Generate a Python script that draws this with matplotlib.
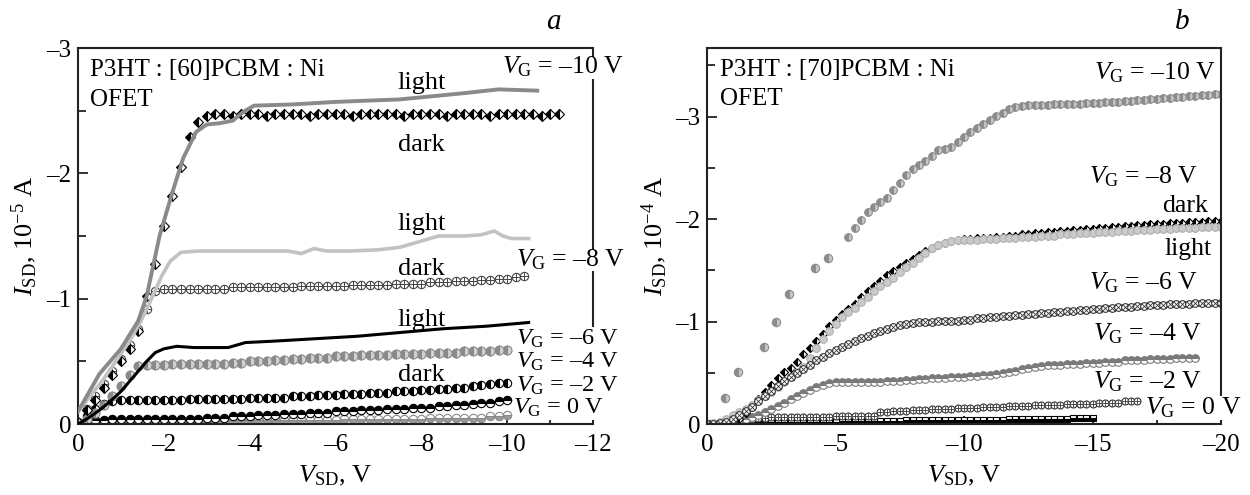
import numpy as np
import matplotlib
matplotlib.use('Agg')
import matplotlib.pyplot as plt
from matplotlib.ticker import MultipleLocator
from matplotlib.patches import Rectangle

plt.rcParams['font.family'] = ['Liberation Serif', 'DejaVu Serif']
plt.rcParams['mathtext.fontset'] = 'custom'
plt.rcParams['mathtext.rm'] = 'Liberation Serif'
plt.rcParams['mathtext.it'] = 'Liberation Serif:italic'

# ---------------- panel a: P3HT:[60]PCBM:Ni, I_SD in 1e-5 A ----------------
step_a = 0.2   # V_SD sweep step for the marker series

a10_light_x = [0, -0.5, -1.0, -1.4, -1.6, -1.9, -2.2, -2.45, -2.75, -3.0, -3.3,
               -3.6, -3.85, -4.1, -5.0, -6.0, -7.5, -9.0, -9.8, -10.7]
a10_light_y = [-0.1, -0.4, -0.6, -0.82, -1.02, -1.5, -1.85, -2.12, -2.33, -2.39, -2.40,
               -2.42, -2.49, -2.54, -2.55, -2.57, -2.59, -2.64, -2.67, -2.66]
a10_dark_y = [-0.02, -0.11, -0.19, -0.29, -0.39, -0.50, -0.60, -0.74, -1.02, -1.28,
              -1.58, -1.82, -2.05, -2.29, -2.41, -2.46,
              -2.47, -2.47, -2.46, -2.47, -2.47, -2.47, -2.46, -2.47, -2.47, -2.47,
              -2.47, -2.46, -2.47, -2.47, -2.47, -2.47, -2.46, -2.47, -2.47, -2.47,
              -2.47, -2.47, -2.46, -2.47, -2.47, -2.47, -2.47, -2.46, -2.47, -2.47,
              -2.47, -2.47, -2.46, -2.47, -2.47, -2.47, -2.47, -2.47, -2.46, -2.47,
              -2.47]

a8_light_x = [0, -0.3, -0.6, -0.9, -1.2, -1.45, -1.7, -1.95, -2.15, -2.4, -2.8, -3.5,
              -4.2, -4.9, -5.2, -5.5, -5.8, -6.3, -7.0, -7.5, -8.0, -8.4, -9.0, -9.4,
              -9.7, -9.9, -10.1, -10.5]
a8_light_y = [-0.1, -0.23, -0.36, -0.51, -0.66, -0.81, -0.99, -1.18, -1.30, -1.37, -1.38, -1.38,
              -1.38, -1.38, -1.36, -1.40, -1.38, -1.38, -1.39, -1.41, -1.46, -1.50, -1.50, -1.51,
              -1.54, -1.50, -1.48, -1.48]
a8_dark_y = [-0.02, -0.12, -0.22, -0.32, -0.42, -0.52, -0.63, -0.76, -0.92, -1.06,
             -1.08, -1.08, -1.08, -1.08, -1.08, -1.08, -1.08, -1.08, -1.09, -1.09,
             -1.09, -1.09, -1.09, -1.09, -1.09, -1.09, -1.10, -1.10, -1.10, -1.10,
             -1.10, -1.10, -1.11, -1.11, -1.11, -1.11, -1.11, -1.12, -1.12, -1.12,
             -1.12, -1.13, -1.13, -1.13, -1.14, -1.14, -1.14, -1.15, -1.15, -1.16,
             -1.16, -1.17, -1.18]

a6_light_x = [0, -0.25, -0.5, -0.75, -1.0, -1.3, -1.6, -1.8, -2.0, -2.3, -2.7, -3.2, -3.5,
              -3.7, -3.9, -4.5, -5.5, -6.5, -7.5, -8.5, -9.5, -10.5]
a6_light_y = [0, -0.05, -0.11, -0.18, -0.26, -0.38, -0.50, -0.57, -0.60, -0.62, -0.61, -0.61, -0.61,
              -0.63, -0.65, -0.66, -0.68, -0.70, -0.73, -0.76, -0.78, -0.81]
a6_dark_y = [-0.01, -0.04, -0.09, -0.15, -0.22, -0.30, -0.39, -0.46, -0.47, -0.47,
             -0.47, -0.48, -0.48, -0.48, -0.48, -0.48, -0.48, -0.48, -0.49, -0.49,
             -0.50, -0.50, -0.50, -0.51, -0.51, -0.52, -0.52, -0.53, -0.53, -0.53,
             -0.54, -0.54, -0.54, -0.55, -0.55, -0.55, -0.55, -0.56, -0.56, -0.56,
             -0.56, -0.57, -0.57, -0.57, -0.57, -0.58, -0.58, -0.58, -0.58, -0.59,
             -0.59]
a4_dark_y = [-0.01, -0.06, -0.12, -0.16, -0.18, -0.19, -0.19, -0.19, -0.19, -0.19,
             -0.19, -0.19, -0.19, -0.20, -0.20, -0.20, -0.20, -0.20, -0.20, -0.20,
             -0.21, -0.21, -0.21, -0.21, -0.21, -0.22, -0.22, -0.22, -0.23, -0.23,
             -0.23, -0.24, -0.24, -0.24, -0.25, -0.25, -0.25, -0.26, -0.26, -0.26,
             -0.27, -0.27, -0.28, -0.28, -0.29, -0.29, -0.30, -0.31, -0.32, -0.33,
             -0.33]
a2_dark_y = [-0.01, -0.02, -0.03, -0.03, -0.04, -0.04, -0.04, -0.04, -0.04, -0.04,
             -0.04, -0.04, -0.04, -0.04, -0.04, -0.05, -0.05, -0.05, -0.06, -0.06,
             -0.06, -0.07, -0.07, -0.07, -0.08, -0.08, -0.08, -0.09, -0.09, -0.09,
             -0.10, -0.10, -0.10, -0.11, -0.11, -0.11, -0.12, -0.12, -0.12, -0.13,
             -0.13, -0.13, -0.14, -0.14, -0.15, -0.15, -0.16, -0.17, -0.17, -0.18,
             -0.19]
a0_dark_y = [-0.01, -0.02, -0.02, -0.02, -0.02, -0.02, -0.02, -0.02, -0.02, -0.02,
             -0.02, -0.02, -0.02, -0.02, -0.02, -0.02, -0.03, -0.03, -0.03, -0.03,
             -0.03, -0.03, -0.03, -0.03, -0.03, -0.03, -0.03, -0.03, -0.03, -0.03,
             -0.03, -0.04, -0.04, -0.04, -0.04, -0.04, -0.04, -0.04, -0.04, -0.04,
             -0.04, -0.05, -0.05, -0.05, -0.05, -0.05, -0.05, -0.05, -0.06, -0.06,
             -0.07]

# ---------------- panel b: P3HT:[70]PCBM:Ni, I_SD in 1e-4 A ----------------
step_b = 0.25

b10_sparse_x = [-0.7, -1.2, -2.2, -2.7, -3.2, -4.2, -4.7]
b10_sparse_y = [-0.25, -0.51, -0.75, -1.00, -1.27, -1.52, -1.62]
b10_start = -5.5
b10_y = [-1.83, -1.91, -1.99, -2.07, -2.12, -2.17, -2.21, -2.28, -2.35, -2.43,
         -2.49, -2.53, -2.57, -2.62, -2.67, -2.68, -2.70, -2.75, -2.80, -2.85,
         -2.89, -2.93, -2.97, -3.01, -3.04, -3.07, -3.09, -3.10, -3.11, -3.11,
         -3.11, -3.11, -3.12, -3.12, -3.12, -3.12, -3.12, -3.13, -3.13, -3.13,
         -3.14, -3.14, -3.14, -3.15, -3.15, -3.16, -3.16, -3.17, -3.17, -3.18,
         -3.18, -3.19, -3.19, -3.20, -3.20, -3.21, -3.21, -3.22, -3.22]
b8_dark_y = [0.00, 0.00, -0.01, -0.01, -0.02,
             -0.05, -0.11, -0.17, -0.24, -0.31, -0.38, -0.45, -0.51, -0.55, -0.61,
             -0.68, -0.74, -0.81, -0.88, -0.96, -1.02, -1.07, -1.12, -1.17, -1.24,
             -1.30, -1.35, -1.40, -1.45, -1.49, -1.53, -1.57, -1.61, -1.65, -1.69,
             -1.72, -1.75, -1.77, -1.79, -1.80, -1.81,
             -1.81, -1.82, -1.82, -1.82, -1.83, -1.83, -1.84, -1.84,
             -1.85, -1.85, -1.86, -1.86, -1.87, -1.87, -1.88, -1.88,
             -1.89, -1.89, -1.90, -1.90, -1.91, -1.91, -1.92, -1.92,
             -1.93, -1.93, -1.94, -1.94, -1.95, -1.95, -1.95, -1.96,
             -1.96, -1.96, -1.97, -1.97, -1.97, -1.98, -1.98, -1.98]
b8_light_y = [0.00, -0.01, -0.02, -0.05, -0.09,
              -0.12, -0.15, -0.19, -0.23, -0.27, -0.31, -0.36, -0.41, -0.46, -0.51,
              -0.56, -0.64, -0.74, -0.83, -0.91, -0.98, -1.04, -1.09, -1.13, -1.19,
              -1.24, -1.30, -1.35, -1.39, -1.43, -1.48, -1.53, -1.57, -1.62, -1.67,
              -1.72, -1.75, -1.77, -1.79, -1.80, -1.80,
              -1.80, -1.80, -1.81, -1.81, -1.81, -1.82, -1.82, -1.82,
              -1.83, -1.83, -1.83, -1.84, -1.84, -1.84, -1.85, -1.85,
              -1.85, -1.86, -1.86, -1.86, -1.87, -1.87, -1.87, -1.88,
              -1.88, -1.88, -1.89, -1.89, -1.89, -1.90, -1.90, -1.90,
              -1.91, -1.91, -1.91, -1.91, -1.92, -1.92, -1.92, -1.92]
b6_y = [0.00, 0.00, -0.01, -0.02, -0.05,
        -0.09, -0.13, -0.17, -0.22, -0.27, -0.32, -0.37, -0.42, -0.46, -0.50,
        -0.54, -0.58, -0.62, -0.65, -0.69, -0.72, -0.75, -0.78, -0.81, -0.84,
        -0.86, -0.89, -0.91, -0.93, -0.95, -0.97, -0.98, -0.99, -1.00, -1.00,
        -1.00, -1.01, -1.01, -1.01, -1.01, -1.02,
        -1.02, -1.03, -1.03, -1.04, -1.04, -1.05, -1.05, -1.06,
        -1.06, -1.07, -1.07, -1.08, -1.08, -1.09, -1.09, -1.10,
        -1.10, -1.11, -1.11, -1.12, -1.12, -1.13, -1.13, -1.14,
        -1.14, -1.14, -1.15, -1.15, -1.16, -1.16, -1.16, -1.17,
        -1.17, -1.17, -1.17, -1.18, -1.18, -1.18, -1.18, -1.18]
b4_y = [0.00, 0.00, 0.00, -0.01, -0.02,
        -0.04, -0.05, -0.07, -0.09, -0.12, -0.15, -0.18, -0.21, -0.24, -0.27,
        -0.30, -0.33, -0.36, -0.38, -0.40, -0.41, -0.41, -0.41, -0.41, -0.41,
        -0.41, -0.41, -0.41, -0.42, -0.42, -0.42, -0.43, -0.43, -0.44, -0.44,
        -0.45, -0.45, -0.45, -0.46, -0.46, -0.46,
        -0.47, -0.47, -0.48, -0.48, -0.49, -0.50, -0.51, -0.52,
        -0.54, -0.55, -0.56, -0.57, -0.58, -0.58, -0.58, -0.59,
        -0.59, -0.59, -0.60, -0.60, -0.60, -0.61, -0.61, -0.61,
        -0.62, -0.62, -0.62, -0.62, -0.63, -0.63, -0.63, -0.63,
        -0.64, -0.64, -0.64, -0.64]
b2_y = [0.00, 0.00, -0.01, -0.01, -0.02, -0.03,
        -0.04, -0.05, -0.06, -0.06, -0.07, -0.07, -0.07, -0.07, -0.07, -0.07,
        -0.07, -0.07, -0.07, -0.07, -0.08, -0.08, -0.08, -0.08, -0.08, -0.08,
        -0.08,
        -0.12, -0.12, -0.13, -0.13, -0.13, -0.14, -0.14, -0.14, -0.15, -0.15,
        -0.15, -0.15, -0.16, -0.16, -0.16, -0.16, -0.17, -0.17, -0.17, -0.17,
        -0.18, -0.18, -0.18, -0.18, -0.19, -0.19, -0.19, -0.19, -0.19, -0.20,
        -0.20, -0.20, -0.20, -0.20, -0.21, -0.21, -0.21, -0.21, -0.22, -0.22, -0.22]
b0_y = [-0.01, -0.01, -0.01, -0.01, -0.01,
        -0.02, -0.02, -0.02, -0.02, -0.02, -0.02, -0.02, -0.02,
        -0.02, -0.02, -0.02, -0.02, -0.02, -0.02, -0.02, -0.02,
        -0.03, -0.03, -0.03, -0.03, -0.03, -0.03, -0.03, -0.03, -0.03, -0.03,
        -0.04, -0.04, -0.04, -0.04, -0.04, -0.04, -0.04, -0.04, -0.04, -0.04,
        -0.04, -0.04, -0.04, -0.04, -0.04, -0.04,
        -0.05, -0.05, -0.05, -0.05, -0.05, -0.05, -0.05, -0.05, -0.05, -0.05,
        -0.06, -0.06, -0.06, -0.06]


def sweep(y, step, start=0.0):
    # V_SD values of a uniform sweep towards negative voltage
    return start - step * np.arange(len(y))


fig = plt.figure(figsize=(12.5, 4.95), dpi=100)
ax1 = fig.add_axes([0.0624, 0.1434, 0.412, 0.7596])
ax2 = fig.add_axes([0.5656, 0.1434, 0.4112, 0.7596])

# ---- panel a marks
ax1.plot(sweep(a0_dark_y, step_a), a0_dark_y, 'o', ms=6, fillstyle='bottom',
         mfc='#9a9a9a', mfcalt='white', mec='#8a8a8a', mew=0.8, zorder=2)
ax1.plot(sweep(a2_dark_y, step_a), a2_dark_y, 'o', ms=6, fillstyle='top',
         mfc='black', mfcalt='white', mec='black', mew=0.8, zorder=2)
ax1.plot(sweep(a4_dark_y, step_a), a4_dark_y, 'o', ms=6, fillstyle='left',
         mfc='black', mfcalt='white', mec='black', mew=0.8, zorder=2)
ax1.plot(sweep(a6_dark_y, step_a), a6_dark_y, 'o', ms=6.5, fillstyle='left',
         mfc='#8a8a8a', mfcalt='#d2d2d2', mec='#8a8a8a', mew=0.8, zorder=2)
ax1.plot(sweep(a8_dark_y, step_a), a8_dark_y, 'o', ms=6, mfc='white', mec='#444444',
         mew=0.8, zorder=2)
ax1.plot(sweep(a8_dark_y, step_a), a8_dark_y, '+', ms=6, color='#444444', mew=0.7, zorder=2)
ax1.plot(sweep(a10_dark_y, step_a), a10_dark_y, 'D', ms=5.5, fillstyle='left',
         mfc='black', mfcalt='white', mec='black', mew=0.8, zorder=2)

ax1.plot(a6_light_x, a6_light_y, '-', color='black', lw=2.2, zorder=3)
ax1.plot(a8_light_x, a8_light_y, '-', color='#c2c2c2', lw=2.6, zorder=3)
ax1.plot(a10_light_x, a10_light_y, '-', color='#8a8a8a', lw=2.8, zorder=3)

# ---- panel b marks
ax2.plot(sweep(b0_y, step_b), b0_y, 's', ms=4.5, fillstyle='bottom', mfc='black',
         mfcalt='white', mec='black', mew=0.8, zorder=2)
ax2.plot(sweep(b2_y, step_b), b2_y, 'o', ms=5, mfc='white', mec='#333333', mew=0.8, zorder=2)
ax2.plot(sweep(b2_y, step_b), b2_y, '+', ms=5, color='#333333', mew=0.6, zorder=2)
ax2.plot(sweep(b4_y, step_b), b4_y, 'o', ms=5.5, fillstyle='top', mfc='#7a7a7a',
         mfcalt='white', mec='#7a7a7a', mew=0.8, zorder=2)
ax2.plot(sweep(b8_dark_y, step_b), b8_dark_y, 'D', ms=4.5, fillstyle='left', mfc='black',
         mfcalt='white', mec='black', mew=0.8, zorder=2)
ax2.plot(sweep(b8_light_y, step_b), b8_light_y, 'o', ms=5.5, mfc='#cacaca', mec='#b0b0b0',
         mew=0.8, zorder=2)
ax2.plot(sweep(b6_y, step_b), b6_y, 'o', ms=5.5, mfc='white', mec='#333333', mew=0.8, zorder=2)
ax2.plot(sweep(b6_y, step_b), b6_y, 'x', ms=4, color='#333333', mew=0.6, zorder=2)
ax2.plot(b10_sparse_x, b10_sparse_y, 'o', ms=6, fillstyle='left', mfc='#8c8c8c',
         mfcalt='#c8c8c8', mec='#8c8c8c', mew=0.8, zorder=2)
ax2.plot(sweep(b10_y, step_b, b10_start), b10_y, 'o', ms=5.5, fillstyle='left',
         mfc='#8c8c8c', mfcalt='#c8c8c8', mec='#8c8c8c', mew=0.8, zorder=2)

# ---- axes styling
ax1.set_xlim(0, -12)
ax1.set_ylim(0, -3)
ax1.set_xticks([0, -2, -4, -6, -8, -10, -12])
ax1.set_xticklabels(['0', '–2', '–4', '–6', '–8', '–10', '–12'])
ax1.set_yticks([0, -1, -2, -3])
ax1.set_yticklabels(['0', '–1', '–2', '–3'])
ax1.xaxis.set_minor_locator(MultipleLocator(1))
ax1.yaxis.set_minor_locator(MultipleLocator(0.5))

ax2.set_xlim(0, -20)
ax2.set_ylim(0, -3.67)
ax2.set_xticks([0, -5, -10, -15, -20])
ax2.set_xticklabels(['0', '–5', '–10', '–15', '–20'])
ax2.set_yticks([0, -1, -2, -3])
ax2.set_yticklabels(['0', '–1', '–2', '–3'])
ax2.xaxis.set_minor_locator(MultipleLocator(2.5))
ax2.yaxis.set_minor_locator(MultipleLocator(0.5))

for ax in (ax1, ax2):
    for sp in ax.spines.values():
        sp.set_linewidth(1.5)
        sp.set_color('#222222')
    ax.tick_params(axis='both', which='both', direction='in', top=False, right=False,
                   width=1.3, color='#222222', labelsize=18)
    ax.tick_params(axis='y', which='major', length=7, pad=5)
    ax.tick_params(axis='y', which='minor', length=6)
    ax.tick_params(axis='x', which='major', length=6, pad=7)
    ax.tick_params(axis='x', which='minor', length=3)
    ax.set_xlabel(r'$V_{\rm SD}$, V', fontsize=19, va='baseline')
    ax.xaxis.set_label_coords(0.5, -0.155)

ax1.set_ylabel(r'$I_{\rm SD}$, 10$^{-5}$ A', fontsize=19, va='center')
ax1.yaxis.set_label_coords(-0.105, 0.5)
ax2.set_ylabel(r'$I_{\rm SD}$, 10$^{-4}$ A', fontsize=19, va='center')
ax2.yaxis.set_label_coords(-0.103, 0.5)

# white gaps in the right frame where the V_G labels cross it
for ax, y0, y1 in [(ax1, 0.918, 0.976), (ax1, 0.407, 0.465), (ax1, 0.011, 0.258),
                   (ax2, 0.011, 0.075)]:
    ax.add_patch(Rectangle((0.99, y0), 0.03, y1 - y0, transform=ax.transAxes,
                           facecolor='white', edgecolor='none', clip_on=False, zorder=4))

# ---- annotations
tk = dict(fontsize=18.5, va='baseline', clip_on=False, zorder=5)
tks = dict(fontsize=17.5, va='baseline', clip_on=False, zorder=5)

ax1.text(-0.28, -2.78, 'P3HT : [60]PCBM : Ni', fontsize=18, va='baseline')
ax1.text(-0.28, -2.54, 'OFET', fontsize=18, va='baseline')
ax1.text(-9.88, -2.80, r'$V_{\rm G}$ = –10 V', ha='left', **tk)
ax1.text(-10.2, -1.26, r'$V_{\rm G}$ = –8 V', ha='left', **tk)
ax1.text(-10.2, -0.63, r'$V_{\rm G}$ = –6 V', ha='left', **tks)
ax1.text(-10.2, -0.45, r'$V_{\rm G}$ = –4 V', ha='left', **tks)
ax1.text(-10.2, -0.26, r'$V_{\rm G}$ = –2 V', ha='left', **tks)
ax1.text(-10.14, -0.08, r'$V_{\rm G}$ = 0 V', ha='left', **tks)
for lbl, yy in [('light', -2.67), ('dark', -2.18), ('light', -1.55), ('dark', -1.19),
                ('light', -0.78), ('dark', -0.34)]:
    ax1.text(-8.0, yy, lbl, ha='center', fontsize=19, va='baseline')

ax2.text(-0.5, -3.40, 'P3HT : [70]PCBM : Ni', fontsize=18, va='baseline')
ax2.text(-0.5, -3.11, 'OFET', fontsize=18, va='baseline')
ax2.text(-19.8, -3.36, r'$V_{\rm G}$ = –10 V', ha='right', **tk)
ax2.text(-19.1, -2.35, r'$V_{\rm G}$ = –8 V', ha='right', **tk)
ax2.text(-19.5, -2.07, 'dark', ha='right', **tk)
ax2.text(-19.65, -1.65, 'light', ha='right', **tk)
ax2.text(-19.1, -1.31, r'$V_{\rm G}$ = –6 V', ha='right', **tk)
ax2.text(-19.26, -0.82, r'$V_{\rm G}$ = –4 V', ha='right', **tk)
ax2.text(-19.26, -0.35, r'$V_{\rm G}$ = –2 V', ha='right', **tk)
ax2.text(-17.04, -0.09, r'$V_{\rm G}$ = 0 V', ha='left', **tk)

fig.text(0.4424, 0.941, 'a', fontsize=21, style='italic', ha='center', va='baseline')
fig.text(0.9456, 0.941, 'b', fontsize=21, style='italic', ha='center', va='baseline')

fig.savefig('out.png', dpi=100)
